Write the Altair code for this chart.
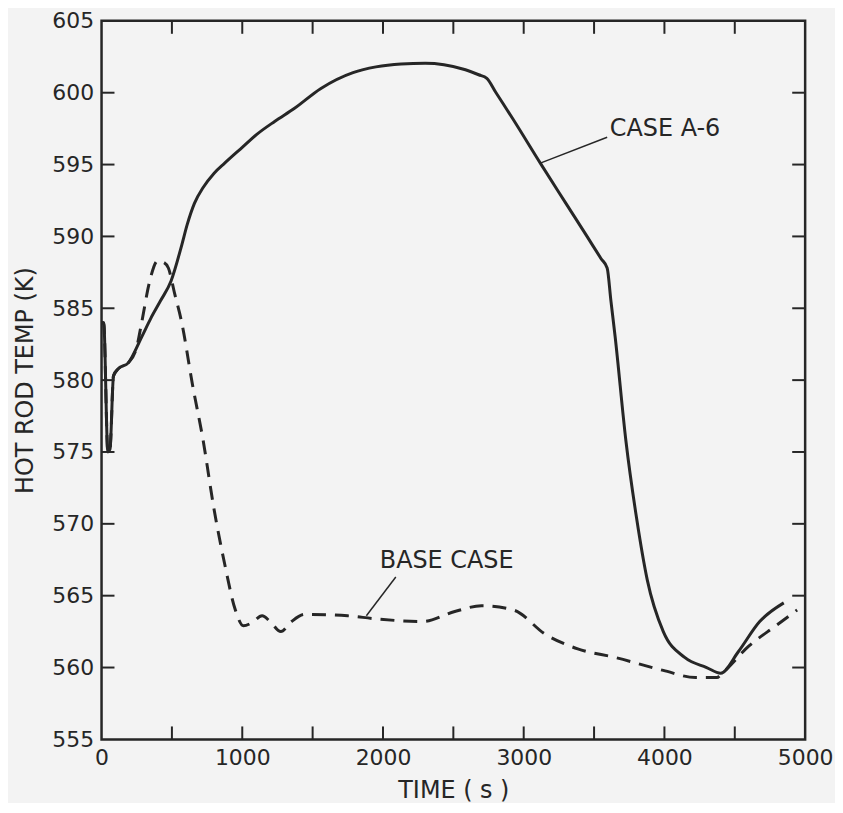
import altair as alt
import pandas as pd

# CASE A-6 (solid)
a6_t = [0, 15, 45, 60, 85, 120, 190, 285, 350, 418, 494, 570, 608, 660, 722, 800, 875, 1000, 1103, 1230,
        1369, 1559, 1787, 1950, 2129, 2300, 2433, 2586, 2680, 2738, 2800, 2928, 3118, 3300, 3450, 3550,
        3593, 3620, 3650, 3726, 3802, 3878, 3992, 4144, 4300, 4400, 4525, 4677, 4848]
a6_T = [584.0, 584.0, 575.0, 575.2, 580.3, 580.8, 581.2, 583.0, 584.3, 585.5, 586.9, 589.4, 590.8, 592.3,
        593.4, 594.4, 595.1, 596.2, 597.1, 598.0, 598.9, 600.3, 601.4, 601.8, 602.0, 602.05, 601.95, 601.6,
        601.25, 601.0, 600.05, 598.1, 595.1, 592.3, 590.0, 588.45, 587.8, 585.5, 583.0, 575.8, 570.4,
        566.1, 562.5, 560.7, 560.0, 559.6, 561.1, 563.2, 564.5]

# BASE CASE (dashed)
base_t = [0, 15, 45, 60, 85, 120, 190, 250, 285, 340, 399, 440, 475, 520, 570, 646, 722, 798, 875, 951,
          1008, 1065, 1141, 1198, 1274, 1350, 1445, 1749, 1939, 2281, 2510, 2700, 2928, 3156, 3384, 3650,
          3992, 4221, 4373, 4410, 4601, 4791, 4943]
base_T = [584.0, 584.0, 575.0, 575.2, 580.3, 580.8, 581.2, 582.3, 584.0, 586.8, 588.3, 588.2, 587.8, 586.0,
          584.0, 579.7, 575.8, 571.1, 567.2, 564.0, 562.9, 563.1, 563.6, 563.2, 562.5, 563.2, 563.7, 563.6,
          563.4, 563.2, 563.9, 564.3, 564.0, 562.3, 561.3, 560.7, 559.8, 559.3, 559.3, 559.6, 561.5, 562.9,
          564.0]

x_labels = [0, 1000, 2000, 3000, 4000, 5000]
y_labels = [555, 560, 565, 570, 575, 580, 585, 590, 595, 600, 605]
x_ticks = [500, 1000, 1500, 2000, 2500, 3000, 3500, 4000, 4500]
y_ticks = [560, 565, 570, 575, 580, 585, 590, 595, 600]

ann_text = ["CASE A-6", "BASE CASE"]
ann_t = [3612, 1977]
ann_T = [597.5, 567.4]
lead_t1 = [3118, 1882]
lead_T1 = [595.1, 563.6]
lead_t2 = [3593, 2091]
lead_T2 = [596.9, 566.3]

W, H = 707, 722
TL = 13
INK = "#262626"
FONT = "DejaVu Sans"

xs = alt.Scale(domain=[0, 5000], nice=False, zero=False)
ys = alt.Scale(domain=[555, 605], nice=False, zero=False)
x_axis = alt.Axis(values=x_labels, title="TIME ( s )", format="d", titlePadding=10)
y_axis = alt.Axis(values=y_labels, title="HOT ROD TEMP (K)", format="d", titlePadding=14)


def X(f):
    return alt.X(f, scale=xs, axis=x_axis)


def Y(f):
    return alt.Y(f, scale=ys, axis=y_axis)


solid = alt.Chart(pd.DataFrame({"t": a6_t, "T": a6_T})).mark_line(
    color=INK, strokeWidth=3, interpolate="monotone").encode(x=X("t:Q"), y=Y("T:Q"))

dashed = alt.Chart(pd.DataFrame({"t": base_t, "T": base_T})).mark_line(
    color=INK, strokeWidth=3, strokeDash=[14, 9], interpolate="monotone").encode(x=X("t:Q"), y=Y("T:Q"))

xt = pd.DataFrame({"t": x_ticks})
yt = pd.DataFrame({"T": y_ticks})
bottom_ticks = alt.Chart(xt).mark_rule(color=INK, strokeWidth=2).encode(
    x=X("t:Q"), y=alt.value(H - TL), y2=alt.value(H))
top_ticks = alt.Chart(xt).mark_rule(color=INK, strokeWidth=2).encode(
    x=X("t:Q"), y=alt.value(0), y2=alt.value(TL))
left_ticks = alt.Chart(yt).mark_rule(color=INK, strokeWidth=2).encode(
    y=Y("T:Q"), x=alt.value(0), x2=alt.value(TL))
right_ticks = alt.Chart(yt).mark_rule(color=INK, strokeWidth=2).encode(
    y=Y("T:Q"), x=alt.value(W - TL), x2=alt.value(W))

ann = pd.DataFrame({"label": ann_text, "t": ann_t, "T": ann_T,
                    "t1": lead_t1, "T1": lead_T1, "t2": lead_t2, "T2": lead_T2})
texts = alt.Chart(ann).mark_text(align="left", baseline="middle", font=FONT, fontSize=24,
                                 color=INK).encode(x=X("t:Q"), y=Y("T:Q"), text="label:N")
leaders = alt.Chart(ann).mark_rule(color=INK, strokeWidth=1.5).encode(
    x=X("t1:Q"), y=Y("T1:Q"), x2="t2:Q", y2="T2:Q")

chart = alt.layer(solid, dashed, bottom_ticks, top_ticks, left_ticks, right_ticks, leaders, texts).properties(
    width=W, height=H,
    autosize=alt.AutoSizeParams(type="none"),
    padding={"left": 94, "top": 11, "right": 30, "bottom": 62},
    background="#f3f3f3",
).configure_view(
    stroke=INK, strokeWidth=2.5
).configure_axis(
    domain=False, ticks=False, tickSize=0, grid=False,
    labelFont=FONT, labelFontSize=22, labelColor=INK, labelPadding=8,
    labelOverlap=False, labelFlush=False,
    titleFont=FONT, titleFontSize=24, titleFontWeight="normal", titleColor=INK,
)

chart.save("out.html", embed_options={"renderer": "svg", "actions": False})
